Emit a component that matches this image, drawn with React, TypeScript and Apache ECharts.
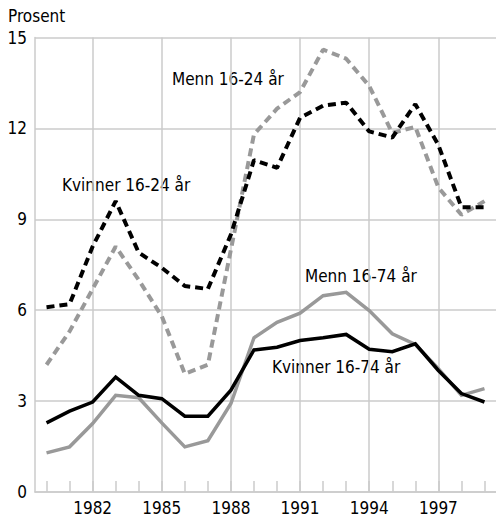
import React, { useEffect, useRef } from "react";
import * as echarts from "echarts";

const years = ["1980","1981","1982","1983","1984","1985","1986","1987","1988","1989","1990","1991","1992","1993","1994","1995","1996","1997","1998","1999"];
const kvinner1624 = [6.1, 6.2, 8.1, 9.6, 7.9, 7.4, 6.8, 6.7, 8.5, 10.95, 10.7, 12.35, 12.75, 12.85, 11.9, 11.7, 12.8, 11.45, 9.4, 9.4];
const menn1624 = [4.2, 5.3, 6.7, 8.1, 7.0, 5.8, 3.9, 4.2, 8.0, 11.8, 12.65, 13.2, 14.6, 14.3, 13.4, 11.85, 12.05, 10.05, 9.15, 9.6];
const kvinner1674 = [2.28, 2.67, 2.97, 3.79, 3.19, 3.08, 2.5, 2.5, 3.36, 4.69, 4.78, 5.0, 5.09, 5.2, 4.71, 4.63, 4.89, 4.01, 3.25, 2.97];
const menn1674 = [1.29, 1.49, 2.26, 3.19, 3.11, 2.28, 1.49, 1.69, 2.92, 5.09, 5.6, 5.9, 6.48, 6.59, 5.99, 5.22, 4.87, 4.07, 3.19, 3.41];
const labelYears = ["1982", "1985", "1988", "1991", "1994", "1997"];
const yTicks = [0, 3, 6, 9, 12, 15];

const FONT = "'DejaVu Sans Condensed', Roboto, sans-serif";
const FS = 17;
const GRID = "#cbcbcb";
const GRAY = "#999999";

export default function App() {
  const ref = useRef<HTMLDivElement>(null);
  useEffect(() => {
    if (!ref.current) return;
    const chart = echarts.init(ref.current, null, { renderer: "svg" });
    const showYear = (i: number) => labelYears.indexOf(years[i]) >= 0;
    const label = (text: string, x: number, y: number) => ({
      type: "text",
      x,
      y,
      style: { text, fontFamily: FONT, fontSize: FS, fill: "#000", verticalAlign: "middle" },
    });
    chart.setOption({
      animation: false,
      grid: { left: 35, right: -5, top: 37.5, bottom: 26, containLabel: false },
      xAxis: {
        type: "category",
        data: years,
        boundaryGap: true,
        axisLine: { show: true, lineStyle: { color: GRID, width: 1.5 } },
        axisTick: { show: true, inside: true, length: 11, interval: 0, alignWithLabel: true, lineStyle: { color: GRID, width: 1.5 } },
        axisLabel: {
          interval: (i: number) => showYear(i),
          color: "#000",
          fontFamily: FONT,
          fontSize: FS,
          margin: 7,
        },
        splitLine: {
          show: true,
          interval: (i: number) => showYear(i),
          alignWithLabel: true,
          lineStyle: { color: GRID, width: 1.5 },
        },
      },
      yAxis: {
        type: "value",
        min: 0,
        max: 15,
        interval: 3,
        axisLine: { show: true, lineStyle: { color: GRID, width: 1.5 } },
        axisTick: { show: false },
        axisLabel: {
          color: "#000",
          fontFamily: FONT,
          fontSize: FS,
          margin: 8,
          formatter: (v: number) => (yTicks.indexOf(v) >= 0 ? String(v) : ""),
        },
        splitLine: { show: true, lineStyle: { color: GRID, width: 1.5 } },
      },
      series: [
        {
          name: "Menn 16-74 år",
          type: "line",
          data: menn1674,
          symbol: "none",
          lineStyle: { color: GRAY, width: 3.5, join: "miter" },
        },
        {
          name: "Kvinner 16-74 år",
          type: "line",
          data: kvinner1674,
          symbol: "none",
          lineStyle: { color: "#000", width: 3.5, join: "miter" },
        },
        {
          name: "Menn 16-24 år",
          type: "line",
          data: menn1624,
          symbol: "none",
          lineStyle: { color: GRAY, width: 4, type: [8, 5] },
        },
        {
          name: "Kvinner 16-24 år",
          type: "line",
          data: kvinner1624,
          symbol: "none",
          lineStyle: { color: "#000", width: 4, type: [8, 5] },
        },
      ],
      graphic: [
        label("Prosent", 8, 16),
        label("Menn 16-24 år", 172, 79),
        label("Kvinner 16-24 år", 62, 185),
        label("Menn 16-74 år", 305, 276),
        label("Kvinner 16-74 år", 272, 367),
      ],
    });
    return () => chart.dispose();
  }, []);
  return <div ref={ref} style={{ width: 496, height: 518, position: "absolute", left: 0, top: 0 }} />;
}
